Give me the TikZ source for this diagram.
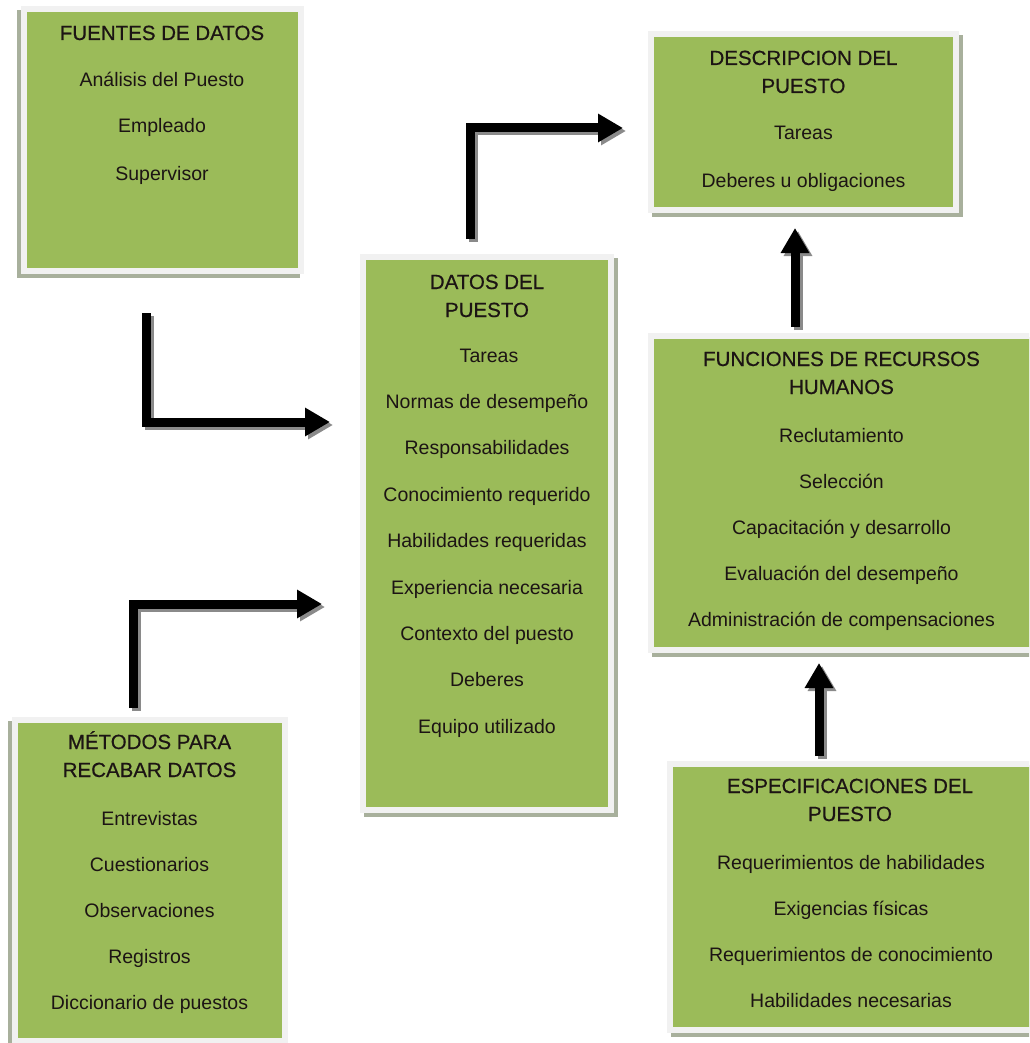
\documentclass[tikz,border=0pt]{standalone}
\usepackage{fontspec}
\setmainfont{Liberation Sans}
\newfontfamily\titlefont[FakeBold=0.6]{Liberation Sans}
\usetikzlibrary{arrows.meta,fit}
\definecolor{boxgreen}{HTML}{9BBB59}
\definecolor{framec}{HTML}{F1F1F1}
\definecolor{shadowc}{HTML}{A8B09C}
\definecolor{textc}{HTML}{1C1414}
\definecolor{arrshadow}{HTML}{8A8A8A}
% #1 name, #2 x1, #3 y1, #4 x2, #5 y2 (green area), #6 shadow dx
\newcommand\greenpanel[6]{%
  \fill[shadowc] (#2-6+#6,#3-6+4) rectangle (#4+6+#6,#5+6+4);
  \fill[framec] (#2-6,#3-6) rectangle (#4+6,#5+6);
  \node[panel, fit={(#2,#3) (#4,#5)}] (#1) {};
}
\tikzset{
  panel/.style={fill=boxgreen, inner sep=0pt, outer sep=0pt},
  ttl/.style={font=\titlefont\fontsize{20.5}{24}\selectfont, text=textc, anchor=base, inner sep=0pt},
  itm/.style={font=\fontsize{19.5}{23}\selectfont, text=textc, anchor=base, inner sep=0pt},
  bigarrow/.style={line width=9pt, line join=miter, line cap=butt,
    -{Triangle[length=25pt,width=27pt]}},
}
\begin{document}
\begin{tikzpicture}[x=1pt,y=-1pt]
\useasboundingbox (0,0) rectangle (1029,1043);
\clip (0,0) rectangle (1029,1043);
\fill[white] (0,0) rectangle (1029,1043);

% panels
\greenpanel{fuentes}{27}{12}{298}{268}{-4}
\greenpanel{datos}{366}{260}{608}{807}{4}
\greenpanel{descr}{654}{37}{953}{207}{4}
\greenpanel{funciones}{654}{339}{1040}{647}{4}
\greenpanel{especif}{673}{767}{1040}{1027}{4}
\greenpanel{metodos}{18}{723}{282}{1038}{-4}

% FUENTES DE DATOS
\node[ttl] (f0) at (162,40) {FUENTES DE DATOS};
\node[itm] (f1) at (162,87) {Análisis del Puesto};
\node[itm] (f2) at (162,133) {Empleado};
\node[itm] (f3) at (162,180) {Supervisor};

% DATOS DEL PUESTO
\node[ttl] (d0) at (487,289) {DATOS DEL};
\node[ttl] (d0b) at (487,317) {PUESTO};
\node[itm] (d1) at (489,362) {Tareas};
\node[itm] (d2) at (487,408.4) {Normas de desempeño};
\node[itm] (d3) at (487,454.8) {Responsabilidades};
\node[itm] (d4) at (487,501.2) {Conocimiento requerido};
\node[itm] (d5) at (487,547.6) {Habilidades requeridas};
\node[itm] (d6) at (487,594) {Experiencia necesaria};
\node[itm] (d7) at (487,640.4) {Contexto del puesto};
\node[itm] (d8) at (487,686.8) {Deberes};
\node[itm] (d9) at (487,733.2) {Equipo utilizado};

% DESCRIPCION DEL PUESTO
\node[ttl] (p0) at (803.5,65) {DESCRIPCION DEL};
\node[ttl] (p0b) at (803.5,93) {PUESTO};
\node[itm] (p1) at (803.5,140) {Tareas};
\node[itm] (p2) at (803.5,187) {Deberes u obligaciones};

% FUNCIONES DE RECURSOS HUMANOS
\node[ttl] (h0) at (841.5,366) {FUNCIONES DE RECURSOS};
\node[ttl] (h0b) at (841.5,394) {HUMANOS};
\node[itm] (h1) at (841.5,442) {Reclutamiento};
\node[itm] (h2) at (841.5,488) {Selección};
\node[itm] (h3) at (841.5,534) {Capacitación y desarrollo};
\node[itm] (h4) at (841.5,580) {Evaluación del desempeño};
\node[itm] (h5) at (841.5,626) {Administración de compensaciones};

% ESPECIFICACIONES DEL PUESTO
\node[ttl] (e0) at (850,793) {ESPECIFICACIONES DEL};
\node[ttl] (e0b) at (850,821) {PUESTO};
\node[itm] (e1) at (851,869) {Requerimientos de habilidades};
\node[itm] (e2) at (851,915) {Exigencias físicas};
\node[itm] (e3) at (851,961) {Requerimientos de conocimiento};
\node[itm] (e4) at (851,1007) {Habilidades necesarias};

% METODOS PARA RECABAR DATOS
\node[ttl] (m0) at (149.5,749) {MÉTODOS PARA};
\node[ttl] (m0b) at (149.5,777) {RECABAR DATOS};
\node[itm] (m1) at (149.5,825) {Entrevistas};
\node[itm] (m2) at (149.5,871) {Cuestionarios};
\node[itm] (m3) at (149.5,917) {Observaciones};
\node[itm] (m4) at (149.5,963) {Registros};
\node[itm] (m5) at (149.5,1009) {Diccionario de puestos};

% arrow end points
\coordinate (a1s) at (146,313);
\coordinate (a1e) at (330,422);
\coordinate (a2s) at (470,239);
\coordinate (a2e) at (623,128);
\coordinate (a3s) at (133,708);
\coordinate (a3e) at (322,604);
\coordinate (a4s) at (795,327);
\coordinate (a4e) at (795,228);
\coordinate (a5s) at (819,756);
\coordinate (a5e) at (819,663);

% arrow shadows
\begin{scope}[transform canvas={shift={(3,3)}}]
  \draw[bigarrow, arrshadow] (a1s) |- (a1e);
  \draw[bigarrow, arrshadow] (a2s) |- (a2e);
  \draw[bigarrow, arrshadow] (a3s) |- (a3e);
  \draw[bigarrow, arrshadow] (a4s) -- (a4e);
  \draw[bigarrow, arrshadow] (a5s) -- (a5e);
\end{scope}
% arrows
\draw[bigarrow] (a1s) |- (a1e);
\draw[bigarrow] (a2s) |- (a2e);
\draw[bigarrow] (a3s) |- (a3e);
\draw[bigarrow] (a4s) -- (a4e);
\draw[bigarrow] (a5s) -- (a5e);
\end{tikzpicture}
\end{document}
